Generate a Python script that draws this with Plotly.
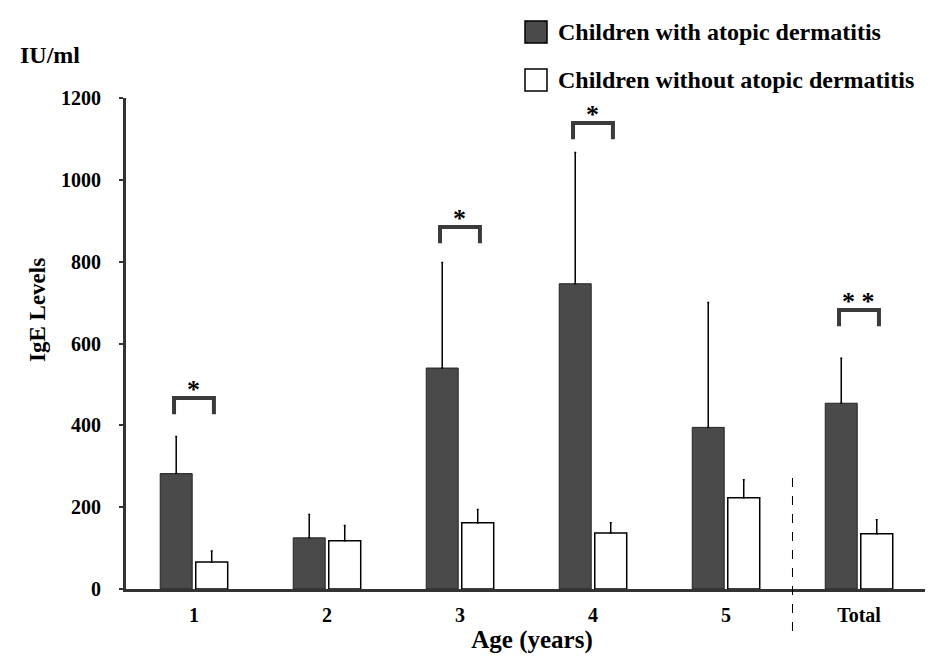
import plotly.graph_objects as go

# ---------------- data ----------------
categories = ["1", "2", "3", "4", "5", "Total"]
series_names = ["Children with atopic dermatitis", "Children without atopic dermatitis"]
ad_mean = [282, 125, 540, 746, 395, 454]
ad_err = [91, 57, 258, 321, 305, 110]
non_mean = [66, 118, 162, 137, 223, 135]
non_err = [27, 37, 32, 25, 44, 34]
y_ticks = [0, 200, 400, 600, 800, 1000, 1200]

sig_groups = ["1", "3", "4", "Total"]
sig_labels = ["*", "*", "*", "* *"]
sig_top = [467, 885, 1139, 682]
sig_leg = 40

# ---------------- layout geometry ----------------
W, H = 933, 659
L, R, T, B = 118, 3, 90, 78
PW, PH = W - L - R, H - T - B


def px_x(p):
    return (p - L) / PW


def px_y(p):
    return (H - B - p) / PH


FONT = "Liberation Serif"
DARK = "#4a4a4a"
AXIS = "#333333"

fig = go.Figure()
fig.add_trace(go.Bar(
    x=categories, y=ad_mean, name=series_names[0],
    marker=dict(color=DARK, line=dict(color="#222222", width=1)),
    error_y=dict(type="data", array=ad_err, arrayminus=[0] * len(ad_err),
                 symmetric=False, color="black", thickness=1.5, width=1),
    showlegend=False,
))
fig.add_trace(go.Bar(
    x=categories, y=non_mean, name=series_names[1],
    marker=dict(color="white", line=dict(color="black", width=1.5)),
    error_y=dict(type="data", array=non_err, arrayminus=[0] * len(non_err),
                 symmetric=False, color="black", thickness=1.5, width=1),
    showlegend=False,
))

shapes = []
annotations = []

# significance brackets
for g, lab, top in zip(sig_groups, sig_labels, sig_top):
    i = categories.index(g)
    x0, x1 = i - 0.15, i + 0.15
    shapes.append(dict(
        type="path", xref="x", yref="y",
        path=f"M {x0},{top - sig_leg} L {x0},{top} L {x1},{top} L {x1},{top - sig_leg}",
        line=dict(color="#3a3a3a", width=4),
    ))
    annotations.append(dict(
        x=i, y=top, xref="x", yref="y", text=lab, showarrow=False,
        yanchor="bottom", yshift=-8,
        font=dict(family=FONT, size=26, color="black", weight="bold"),
    ))

# dashed separator between "5" and "Total"
shapes.append(dict(
    type="line", xref="x", yref="paper", x0=4.5, x1=4.5,
    y0=px_y(623), y1=px_y(466),
    line=dict(color="black", width=1, dash="dash"),
))

# manual legend
legend_rows = [24, 72]
legend_fill = [DARK, "white"]
for name, cy, fill in zip(series_names, legend_rows, legend_fill):
    shapes.append(dict(
        type="rect", xref="paper", yref="paper",
        x0=px_x(517), x1=px_x(539), y0=px_y(cy + 11), y1=px_y(cy - 11),
        fillcolor=fill, line=dict(color="black", width=1.5),
    ))
    annotations.append(dict(
        x=px_x(548), y=px_y(cy), xref="paper", yref="paper",
        text=name, showarrow=False, xanchor="left", yanchor="middle",
        font=dict(family=FONT, size=24, color="black", weight="bold"),
    ))

# unit label and rotated y title
annotations.append(dict(
    x=px_x(10), y=px_y(47), xref="paper", yref="paper", text="IU/ml",
    showarrow=False, xanchor="left", yanchor="middle",
    font=dict(family=FONT, size=24, color="black", weight="bold"),
))
annotations.append(dict(
    x=px_x(29), y=px_y(302), xref="paper", yref="paper", text="IgE Levels",
    showarrow=False, textangle=-90, xanchor="center", yanchor="middle",
    font=dict(family=FONT, size=23, color="black", weight="bold"),
))

fig.update_layout(
    width=W, height=H,
    margin=dict(l=L, r=R, t=T, b=B, autoexpand=False),
    paper_bgcolor="white", plot_bgcolor="white",
    barmode="group", bargap=0.466, bargroupgap=0.1,
    font=dict(family=FONT, color="black", weight="bold"),
    shapes=shapes, annotations=annotations,
    showlegend=False,
)
fig.update_xaxes(
    range=[-0.511, 5.594], showline=True, linecolor=AXIS, linewidth=3,
    ticks="", showgrid=False, zeroline=False,
    tickfont=dict(family=FONT, size=20, color="black", weight="bold"),
    ticklabelstandoff=6,
    title=dict(text="Age (years)", standoff=6,
               font=dict(family=FONT, size=25, color="black", weight="bold")),
)
fig.update_yaxes(
    range=[0, 1200], showline=True, linecolor=AXIS, linewidth=3,
    ticks="outside", ticklen=4, tickwidth=2, tickcolor=AXIS,
    tickvals=y_ticks, showgrid=False, zeroline=False,
    tickfont=dict(family=FONT, size=20, color="black", weight="bold"),
    ticklabelstandoff=14,
)

fig.write_html("out.html")
